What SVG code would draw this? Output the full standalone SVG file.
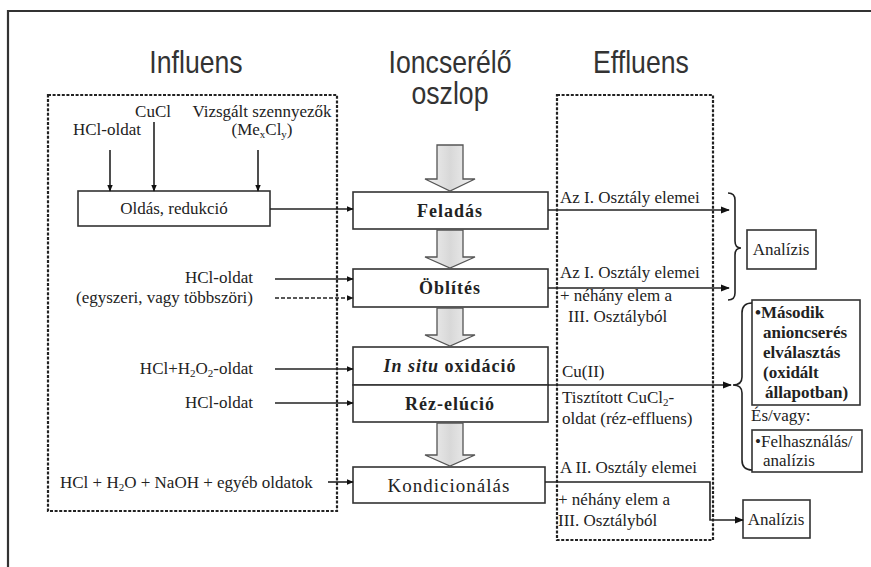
<svg xmlns="http://www.w3.org/2000/svg" width="871" height="567" viewBox="0 0 871 567">
<defs>
<marker id="ah" viewBox="0 0 10 10" refX="9" refY="5" markerWidth="7" markerHeight="7" orient="auto" markerUnits="userSpaceOnUse">
<path d="M0,1 L10,5 L0,9 Z" fill="#111"/>
</marker>
<marker id="ahb" viewBox="0 0 10 10" refX="9" refY="5" markerWidth="9" markerHeight="9" orient="auto" markerUnits="userSpaceOnUse">
<path d="M0,1 L10,5 L0,9 Z" fill="#111"/>
</marker>
<linearGradient id="g" x1="0" x2="1" y1="0" y2="0">
<stop offset="0" stop-color="#f2f2f2"/><stop offset="0.5" stop-color="#d8d8d8"/><stop offset="1" stop-color="#f2f2f2"/>
</linearGradient>
</defs>
<style>
.t{font-family:"Liberation Serif","Times New Roman",serif;font-size:17px;fill:#222}
.h{font-family:"Liberation Sans",Arial,sans-serif;font-size:31px;fill:#333;text-anchor:middle}
.c{font-family:"Liberation Serif","Times New Roman",serif;font-size:18px;font-weight:bold;fill:#222;text-anchor:middle;letter-spacing:1px}
.k{font-family:"Liberation Serif","Times New Roman",serif;font-size:19px;fill:#222;text-anchor:middle;letter-spacing:1px}
.b{fill:#fff;stroke:#333;stroke-width:1.6}
.d{fill:none;stroke:#222;stroke-width:2.2;stroke-dasharray:3 1.6}
.l{fill:none;stroke:#222;stroke-width:1.6}
.ba{fill:url(#g);stroke:#555;stroke-width:1.3}
.bold{font-weight:bold}
.r{text-anchor:end}
.m{text-anchor:middle}
</style>
<rect width="871" height="567" fill="#fff"/>
<path d="M8,567 L8,11 L871,11" fill="none" stroke="#333" stroke-width="2.2"/>

<g id="titles">
<text class="h" transform="translate(196,73) scale(0.86,1)">Influens</text>
<text class="h" transform="translate(450,73) scale(0.86,1)">Ioncserélő</text>
<text class="h" transform="translate(450,104) scale(0.86,1)">oszlop</text>
<text class="h" transform="translate(641,73) scale(0.86,1)">Effluens</text>
</g>

<g id="influens-box"><rect class="d" x="48" y="95" width="289" height="416"/></g>
<g id="effluens-box"><rect class="d" x="557" y="95" width="156" height="445"/></g>

<g id="inputs">
<text class="t m" x="153" y="117">CuCl</text>
<text class="t m" x="107" y="135">HCl-oldat</text>
<text class="t m" x="262" y="117">Vizsgált szennyezők</text>
<text class="t m" x="262" y="135">(Me<tspan font-size="11" dy="3">x</tspan><tspan dy="-3">Cl</tspan><tspan font-size="11" dy="3">y</tspan><tspan dy="-3">)</tspan></text>
<text class="t r" x="253" y="283">HCl-oldat</text>
<text class="t r" x="253" y="303">(egyszeri, vagy többszöri)</text>
<text class="t r" x="253" y="374">HCl+H<tspan font-size="11" dy="3">2</tspan><tspan dy="-3">O</tspan><tspan font-size="11" dy="3">2</tspan><tspan dy="-3">-oldat</tspan></text>
<text class="t r" x="253" y="408">HCl-oldat</text>
<text class="t" x="60" y="488">HCl + H<tspan font-size="11" dy="3">2</tspan><tspan dy="-3">O + NaOH + egyéb oldatok</tspan></text>
</g>

<g id="oldas"><rect class="b" x="78" y="191" width="192" height="35"/><text class="t m" x="174" y="214">Oldás, redukció</text></g>

<g id="feladas"><rect class="b" x="353" y="192" width="195" height="37"/><text class="c" x="450" y="217">Feladás</text></g>
<g id="oblites"><rect class="b" x="353" y="269" width="195" height="38"/><text class="c" x="450" y="294">Öblítés</text></g>
<g id="insitu"><rect class="b" x="353" y="347" width="195" height="38"/><text class="c" x="450" y="372"><tspan font-style="italic">In situ</tspan> oxidáció</text></g>
<g id="rez"><rect class="b" x="353" y="385" width="195" height="37"/><text class="c" x="450" y="410">Réz-elúció</text></g>
<g id="kondicionalas"><rect class="b" x="353" y="467" width="192" height="36"/><text class="k" x="449" y="492">Kondicionálás</text></g>

<g id="block-arrows">
<path class="ba" d="M437,145 L463,145 L463,179 L475,179 L450,191 L425,179 L437,179 Z"/>
<path class="ba" d="M437,230 L463,230 L463,257 L475,257 L450,268 L425,257 L437,257 Z"/>
<path class="ba" d="M437,308 L463,308 L463,335 L475,335 L450,346 L425,335 L437,335 Z"/>
<path class="ba" d="M437,423 L463,423 L463,455 L475,455 L450,466 L425,455 L437,455 Z"/>
</g>

<g id="effluent-labels">
<text class="t" x="560" y="203">Az I. Osztály elemei</text>
<text class="t" x="560" y="278">Az I. Osztály elemei</text>
<text class="t" x="560" y="301">+ néhány elem a</text>
<text class="t" x="568" y="322">III. Osztályból</text>
<text class="t" x="562" y="377">Cu(II)</text>
<text class="t" x="562" y="403">Tisztított CuCl<tspan font-size="11" dy="3">2</tspan><tspan dy="-3">-</tspan></text>
<text class="t" x="562" y="424">oldat (réz-effluens)</text>
<text class="t" x="560" y="473">A II. Osztály elemei</text>
<text class="t" x="558" y="505">+ néhány elem a</text>
<text class="t" x="558" y="526">III. Osztályból</text>
</g>

<g id="analizis1"><rect class="b" x="747" y="230" width="69" height="39"/><text class="t m" x="781" y="255">Analízis</text></g>
<g id="analizis2"><rect class="b" x="743" y="500" width="67" height="38"/><text class="t m" x="776" y="525">Analízis</text></g>
<g id="masodik"><rect class="b" x="752" y="300" width="108" height="105"/>
<text class="t bold" x="755" y="318">•Második</text>
<text class="t bold" x="763" y="338">anioncserés</text>
<text class="t bold" x="763" y="358">elválasztás</text>
<text class="t bold" x="763" y="378">(oxidált</text>
<text class="t bold" x="765" y="398">állapotban)</text>
</g>
<text class="t" x="751" y="421">És/vagy:</text>
<g id="felhasznalas"><rect class="b" x="752" y="430" width="110" height="42"/>
<text class="t" x="755" y="447">•Felhasználás/</text>
<text class="t" x="763" y="466">analízis</text>
</g>

<g id="connectors">
<line class="l" x1="110" y1="150" x2="110" y2="191" marker-end="url(#ah)"/>
<line class="l" x1="154" y1="122" x2="154" y2="191" marker-end="url(#ah)"/>
<line class="l" x1="258" y1="150" x2="258" y2="191" marker-end="url(#ah)"/>
<line class="l" x1="270" y1="209" x2="353" y2="209" marker-end="url(#ah)"/>
<line class="l" x1="275" y1="279" x2="353" y2="279" marker-end="url(#ah)"/>
<line class="l" x1="275" y1="298" x2="353" y2="298" stroke-dasharray="4 2" marker-end="url(#ah)"/>
<line class="l" x1="275" y1="369" x2="353" y2="369" marker-end="url(#ah)"/>
<line class="l" x1="275" y1="403" x2="353" y2="403" marker-end="url(#ah)"/>
<line class="l" x1="328" y1="482" x2="353" y2="482" marker-end="url(#ah)"/>
<line class="l" x1="548" y1="210" x2="729" y2="210" marker-end="url(#ahb)"/>
<line class="l" x1="548" y1="288" x2="729" y2="288" marker-end="url(#ahb)"/>
<line class="l" x1="548" y1="385" x2="731" y2="385" stroke-width="2.4" marker-end="url(#ahb)"/>
<path class="l" d="M545,482 L710,482 L710,520 L743,520" marker-end="url(#ahb)"/>
<path class="l" d="M728,193 Q735,193 735,200 L735,241 Q735,248 741,248 Q735,248 735,255 L735,293 Q735,300 728,300"/>
<path class="l" d="M752,303 Q742,303 742,313 L742,377 Q742,385 733,385 Q742,385 742,393 L742,460 Q742,470 752,470"/>
</g>
</svg>
